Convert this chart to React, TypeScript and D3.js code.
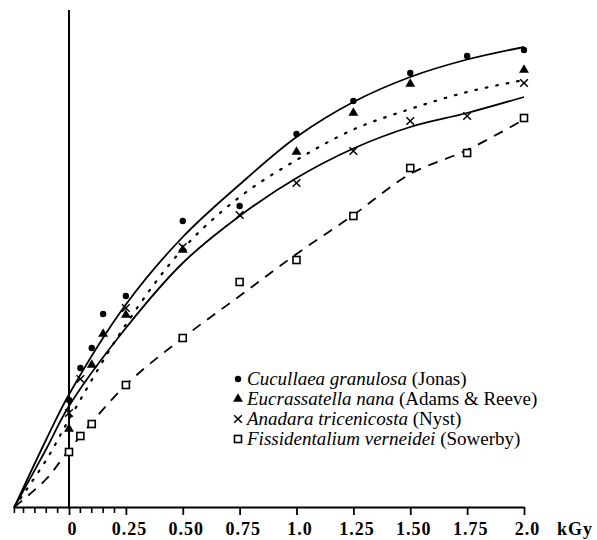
import React, { useEffect, useRef } from 'react';
import * as d3 from 'd3';

// dose (kGy) of the measured points
const doses = [0, 0.05, 0.1, 0.15, 0.25, 0.5, 0.75, 1.0, 1.25, 1.5, 1.75, 2.0];

// measured values (relative units), null = no point shown
const cucullaea = [21.4, 27.8, 31.8, 38.6, 42.2, 57.2, 60.2, 74.6, 81.2, 86.8, 90.2, 91.4];
const eucrassatella = [15.6, null, 28.4, 34.6, 38.4, 51.4, null, 71, 78.8, 84.6, null, 87.4];
const anadara = [18.8, 25.6, null, null, 39.8, 52, 58.4, 64.8, 71.2, 77.2, 78.2, 84.8];
const fissidentalium = [11, 14.2, 16.6, null, 24.4, 33.8, 45, 49.4, 58.2, 67.8, 70.8, 77.8];

// fitted curves
const fitDoses = [-0.24, -0.1, 0, 0.25, 0.5, 0.75, 1.0, 1.25, 1.5, 1.75, 2.0];
const cucullaeaFit = [0, 13.5, 22.5, 40.5, 54, 64.5, 74, 81, 86, 89.5, 92];
const eucrassatellaFit = [0, 9.4, 17.5, 36.5, 51.6, 62, 69.4, 75.5, 79.6, 83, 85.4];
const anadaraFit = [0, 11.6, 20.2, 35.8, 48.8, 58.2, 65.8, 71.7, 76, 78.8, 82];
const fissidentaliumFit = [0, 5.6, 11.4, 24.4, 33.8, 42.2, 50.6, 58.4, 66.6, 71.4, 77.5];

const majorTicks = [0, 0.25, 0.5, 0.75, 1.0, 1.25, 1.5, 1.75, 2.0];
const majorLabels = ['0', '0.25', '0.50', '0.75', '1.0', '1.25', '1.50', '1.75', '2.0'];
const minorTicks = [-0.24, -0.2, -0.15, -0.1, -0.05, 0.05, 0.1, 0.15, 0.2];

const legendSpecies = ['Cucullaea granulosa', 'Eucrassatella nana', 'Anadara tricenicosta', 'Fissidentalium verneidei'];
const legendAuthors = ['(Jonas)', '(Adams & Reeve)', '(Nyst)', '(Sowerby)'];

const FONT = '"Liberation Serif", "DejaVu Serif", "Times New Roman", Times, Tinos, "Noto Serif", FreeSerif, serif';

const App = () => {
  const ref = useRef(null);

  useEffect(() => {
    const width = 597;
    const height = 540;

    const svg = d3.select(ref.current);
    svg.selectAll('*').remove();
    svg.attr('width', width).attr('height', height);

    const x = d3.scaleLinear().domain([0, 2]).range([69, 524]);
    const y = d3.scaleLinear().domain([0, 100]).range([507, 7]);

    // fitted curves
    const line = d3.line()
      .x(d => x(d[0]))
      .y(d => y(d[1]))
      .curve(d3.curveCatmullRom.alpha(0.5));

    const fits = [
      { vals: cucullaeaFit, dotted: false, dash: null },
      { vals: eucrassatellaFit, dotted: true, dash: '1.6,9' },
      { vals: anadaraFit, dotted: false, dash: null },
      { vals: fissidentaliumFit, dotted: false, dash: '10,8' },
    ];
    fits.forEach(f => {
      svg.append('path')
        .datum(fitDoses.map((d, i) => [d, f.vals[i]]))
        .attr('d', line)
        .attr('fill', 'none')
        .attr('stroke', '#000')
        .attr('stroke-width', f.dotted ? 2.2 : 1.8)
        .attr('stroke-linecap', f.dotted ? 'round' : 'butt')
        .attr('stroke-dasharray', f.dash);
    });

    // axes
    const axisScale = d3.scaleLinear().domain([-0.24, 2]).range([x(-0.24), x(2)]);
    const gx = svg.append('g').attr('transform', `translate(0,${y(0)})`);
    gx.call(d3.axisBottom(axisScale)
      .tickValues(majorTicks)
      .tickSize(8)
      .tickSizeOuter(0)
      .tickFormat((d, i) => majorLabels[i]));
    gx.attr('font-family', null);
    gx.select('.domain').attr('stroke-width', 2);
    gx.selectAll('.tick line').attr('stroke-width', 1.8);
    gx.selectAll('.tick text')
      .attr('x', 3)
      .attr('y', 28)
      .attr('dy', 0)
      .style('font-family', FONT)
      .style('font-weight', 'bold')
      .style('font-size', '18px')
      .style('letter-spacing', '1px')
      .attr('fill', '#000');

    svg.append('g').selectAll('line')
      .data(minorTicks)
      .enter()
      .append('line')
      .attr('x1', d => x(d)).attr('x2', d => x(d))
      .attr('y1', y(0)).attr('y2', y(0) + 6)
      .attr('stroke', '#000')
      .attr('stroke-width', 1.6);

    svg.append('text')
      .attr('x', 557)
      .attr('y', 535)
      .style('font-family', FONT)
      .style('font-weight', 'bold')
      .style('font-size', '18px')
      .style('letter-spacing', '1px')
      .text('kGy');

    // vertical line at dose 0
    svg.append('line')
      .attr('x1', x(0)).attr('x2', x(0))
      .attr('y1', 10).attr('y2', y(0))
      .attr('stroke', '#000')
      .attr('stroke-width', 2);

    // markers
    const circle = (g, cx, cy) => g.append('circle').attr('cx', cx).attr('cy', cy).attr('r', 3.2).attr('fill', '#000');
    const triangle = (g, cx, cy) => g.append('path')
      .attr('d', d3.symbol(d3.symbolTriangle, 42)())
      .attr('transform', `translate(${cx},${cy})`)
      .attr('fill', '#000');
    const cross = (g, cx, cy) => g.append('path')
      .attr('d', d3.symbol(d3.symbolTimes, 40)())
      .attr('transform', `translate(${cx},${cy})`)
      .attr('fill', 'none')
      .attr('stroke', '#000')
      .attr('stroke-width', 1.5);
    const square = (g, cx, cy) => g.append('rect')
      .attr('x', cx - 3.5).attr('y', cy - 3.5)
      .attr('width', 7).attr('height', 7)
      .attr('fill', '#fff')
      .attr('stroke', '#000')
      .attr('stroke-width', 1.6);

    const series = [
      { vals: fissidentalium, mark: square },
      { vals: anadara, mark: cross },
      { vals: eucrassatella, mark: triangle },
      { vals: cucullaea, mark: circle },
    ];
    const gm = svg.append('g');
    series.forEach(s => {
      doses.forEach((d, i) => {
        if (s.vals[i] == null) return;
        s.mark(gm, x(d), y(s.vals[i]));
      });
    });

    // legend
    const markers = [circle, triangle, cross, square];
    const gl = svg.append('g');
    legendSpecies.forEach((name, i) => {
      const by = 385 + i * 20;
      markers[i](gl, 238, by - 6);
      const t = gl.append('text')
        .attr('x', 247)
        .attr('y', by)
        .style('font-family', FONT)
        .style('font-size', '19px');
      t.append('tspan').style('font-style', 'italic').text(name);
      t.append('tspan').text(' ' + legendAuthors[i]);
    });
  }, []);

  return (
    <svg ref={ref} style={{ position: 'absolute', left: 0, top: 0, background: '#fff' }}></svg>
  );
};

export default App;
